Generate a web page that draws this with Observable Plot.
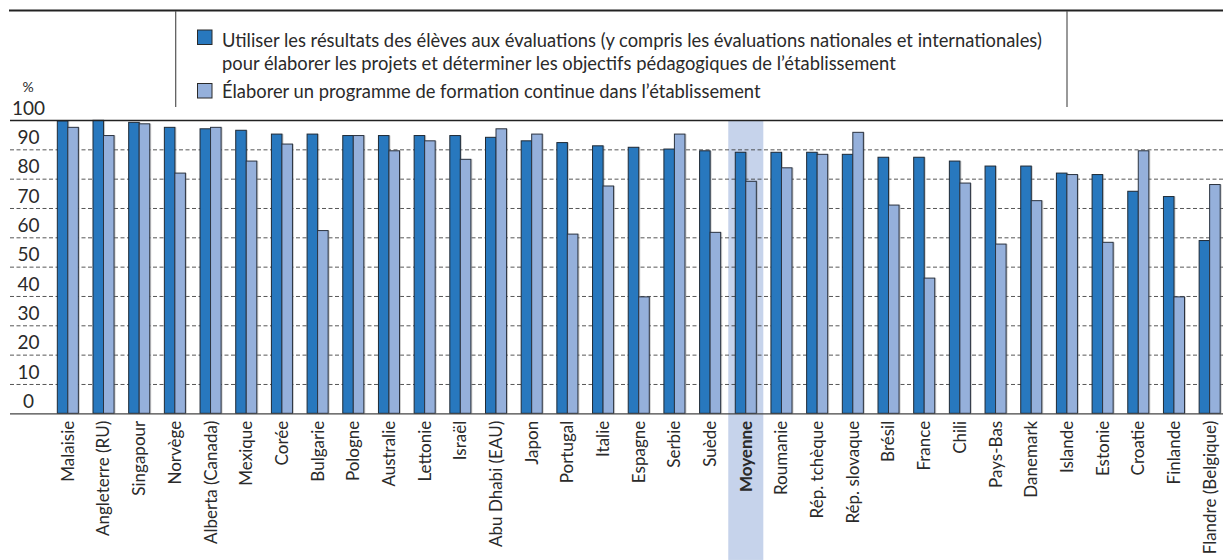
<!DOCTYPE html>
<html>
<head>
<meta charset="utf-8">
<script src="https://cdn.jsdelivr.net/npm/d3@7"></script>
<script src="https://cdn.jsdelivr.net/npm/@observablehq/plot@0.6"></script>
<style>
  html, body { margin: 0; padding: 0; background: #fff; overflow: hidden; }
  #wrap { position: relative; width: 1223px; height: 560px; overflow: hidden; font-family: Lato, "Open Sans", sans-serif; }
  #chart { position: absolute; left: 0; top: 0; }
  #overlay { position: absolute; left: 0; top: 0; pointer-events: none; }
</style>
</head>
<body>
<div id="wrap"><div id="chart"></div><svg id="overlay" width="1223" height="560"></svg></div>
<script>
// ---- data ----
const categories = [
  "Malaisie", "Angleterre (RU)", "Singapour", "Norvège", "Alberta (Canada)", "Mexique",
  "Corée", "Bulgarie", "Pologne", "Australie", "Lettonie", "Israël", "Abu Dhabi (EAU)",
  "Japon", "Portugal", "Italie", "Espagne", "Serbie", "Suède", "Moyenne", "Roumanie",
  "Rép. tchèque", "Rép. slovaque", "Brésil", "France", "Chili", "Pays-Bas", "Danemark",
  "Islande", "Estonie", "Croatie", "Finlande", "Flandre (Belgique)"
];
const resultatsEleves = [
  99.7, 99.9, 99.2, 97.5, 97.0, 96.5, 95.2, 95.2, 94.7, 94.7, 94.7, 94.7, 94.1,
  92.9, 92.3, 91.2, 90.7, 90.1, 89.5, 89.0, 89.0, 89.0, 88.3, 87.3, 87.3, 86.0,
  84.3, 84.3, 81.9, 81.4, 75.7, 73.9, 58.9
];
const formationContinue = [
  97.5, 94.7, 98.7, 81.9, 97.5, 86.0, 91.8, 62.3, 94.7, 89.5, 92.9, 86.6, 97.0,
  95.2, 61.1, 77.5, 39.7, 95.2, 61.7, 79.1, 83.7, 88.3, 95.8, 71.0, 46.1, 78.5,
  57.7, 72.5, 81.4, 58.3, 89.5, 39.7, 78.0
];
const seriesNames = [
  ["Utiliser les résultats des élèves aux évaluations (y compris les évaluations nationales et internationales)",
   "pour élaborer les projets et déterminer les objectifs pédagogiques de l’établissement"],
  ["Élaborer un programme de formation continue dans l’établissement"]
];
const yTicks = [0, 10, 20, 30, 40, 50, 60, 70, 80, 90, 100];
const highlight = "Moyenne";
const unitLabel = "%";

// ---- styles ----
const darkBlue = "#2878be";
const lightBlue = "#95b0db";
const bandColor = "#c6d3eb";
const textColor = "#2a2a2a";

const rowsA = categories.map((c, i) => ({cat: c, v: resultatsEleves[i]}));
const rowsB = categories.map((c, i) => ({cat: c, v: formationContinue[i]}));

const half = 10.5;

const plot = Plot.plot({
  width: 1223,
  height: 560,
  marginLeft: 10,
  marginRight: 0,
  marginTop: 120,
  marginBottom: 146.7,
  style: {fontFamily: "Lato, 'Open Sans', sans-serif", overflow: "visible", background: "transparent"},
  x: {type: "band", domain: categories, range: [50, 1227.5], paddingInner: 0.41, paddingOuter: 0.205, round: false},
  y: {domain: [0, 100], range: [413.3, 120]},
  marks: [
    // highlighted average band
    Plot.barY([highlight], {x: d => d, y1: -50, y2: 100, fill: bandColor, insetLeft: -7, insetRight: -7}),
    // grid
    Plot.ruleY(yTicks.filter(t => t > 0 && t < 100), {stroke: "#3a3a3a", strokeWidth: 1, strokeDasharray: "4,2.5", strokeOpacity: 0.85}),
    // bar shadows
    Plot.barY(rowsA, {x: "cat", y: "v", insetRight: half, dx: 1.5, fill: "#888", fillOpacity: 0.4}),
    Plot.barY(rowsB, {x: "cat", y: "v", insetLeft: half, dx: 1.5, fill: "#888", fillOpacity: 0.4}),
    // bars
    Plot.barY(rowsA, {x: "cat", y: "v", insetRight: half, fill: darkBlue, stroke: "#1f2a36", strokeWidth: 1}),
    Plot.barY(rowsB, {x: "cat", y: "v", insetLeft: half, fill: lightBlue, stroke: "#2b3340", strokeWidth: 1}),
    // frame lines
    Plot.ruleY([100], {stroke: "#222", strokeWidth: 1.5}),
    Plot.ruleY([0], {stroke: "#444", strokeWidth: 1.2}),
    // axes
    Plot.axisY(yTicks, {anchor: "left", tickSize: 0, tickPadding: 0, textAnchor: "middle", dx: 18, dy: -12, fontSize: 19, fill: textColor, label: null}),
    Plot.axisX(categories.filter(c => c !== highlight), {anchor: "bottom", tickSize: 0, tickPadding: 7, tickRotate: -90, fontSize: 17, fill: textColor, label: null}),
    Plot.axisX([highlight], {anchor: "bottom", tickSize: 0, tickPadding: 7, tickRotate: -90, fontSize: 17, fontWeight: "bold", fill: textColor, label: null})
  ]
});
document.getElementById("chart").appendChild(plot);

// ---- legend & decorations overlay ----
const ov = d3.select("#overlay");
ov.append("line").attr("x1", 9).attr("x2", 1223).attr("y1", 10.5).attr("y2", 10.5).attr("stroke", "#222").attr("stroke-width", 2);
[175.7, 1067].forEach(x => ov.append("line").attr("x1", x).attr("x2", x).attr("y1", 11).attr("y2", 107).attr("stroke", "#555").attr("stroke-width", 1.2));
ov.append("text").attr("x", 28).attr("y", 92).attr("text-anchor", "middle").attr("font-family", "Lato, sans-serif").attr("font-size", 14).attr("fill", textColor).text(unitLabel);

const legendItems = [
  {color: darkBlue, lines: seriesNames[0], sqY: 30, baselines: [46.5, 70]},
  {color: lightBlue, lines: seriesNames[1], sqY: 83.5, baselines: [98]}
];
legendItems.forEach(it => {
  ov.append("rect").attr("x", 197.5).attr("y", it.sqY).attr("width", 14.5).attr("height", 14.5)
    .attr("fill", it.color).attr("stroke", "#2a2a2a").attr("stroke-width", 1);
  it.lines.forEach((t, j) => {
    ov.append("text").attr("x", 222).attr("y", it.baselines[j]).attr("font-family", "Lato, sans-serif")
      .attr("font-size", 18.35).attr("fill", textColor).text(t);
  });
});
</script>
</body>
</html>
